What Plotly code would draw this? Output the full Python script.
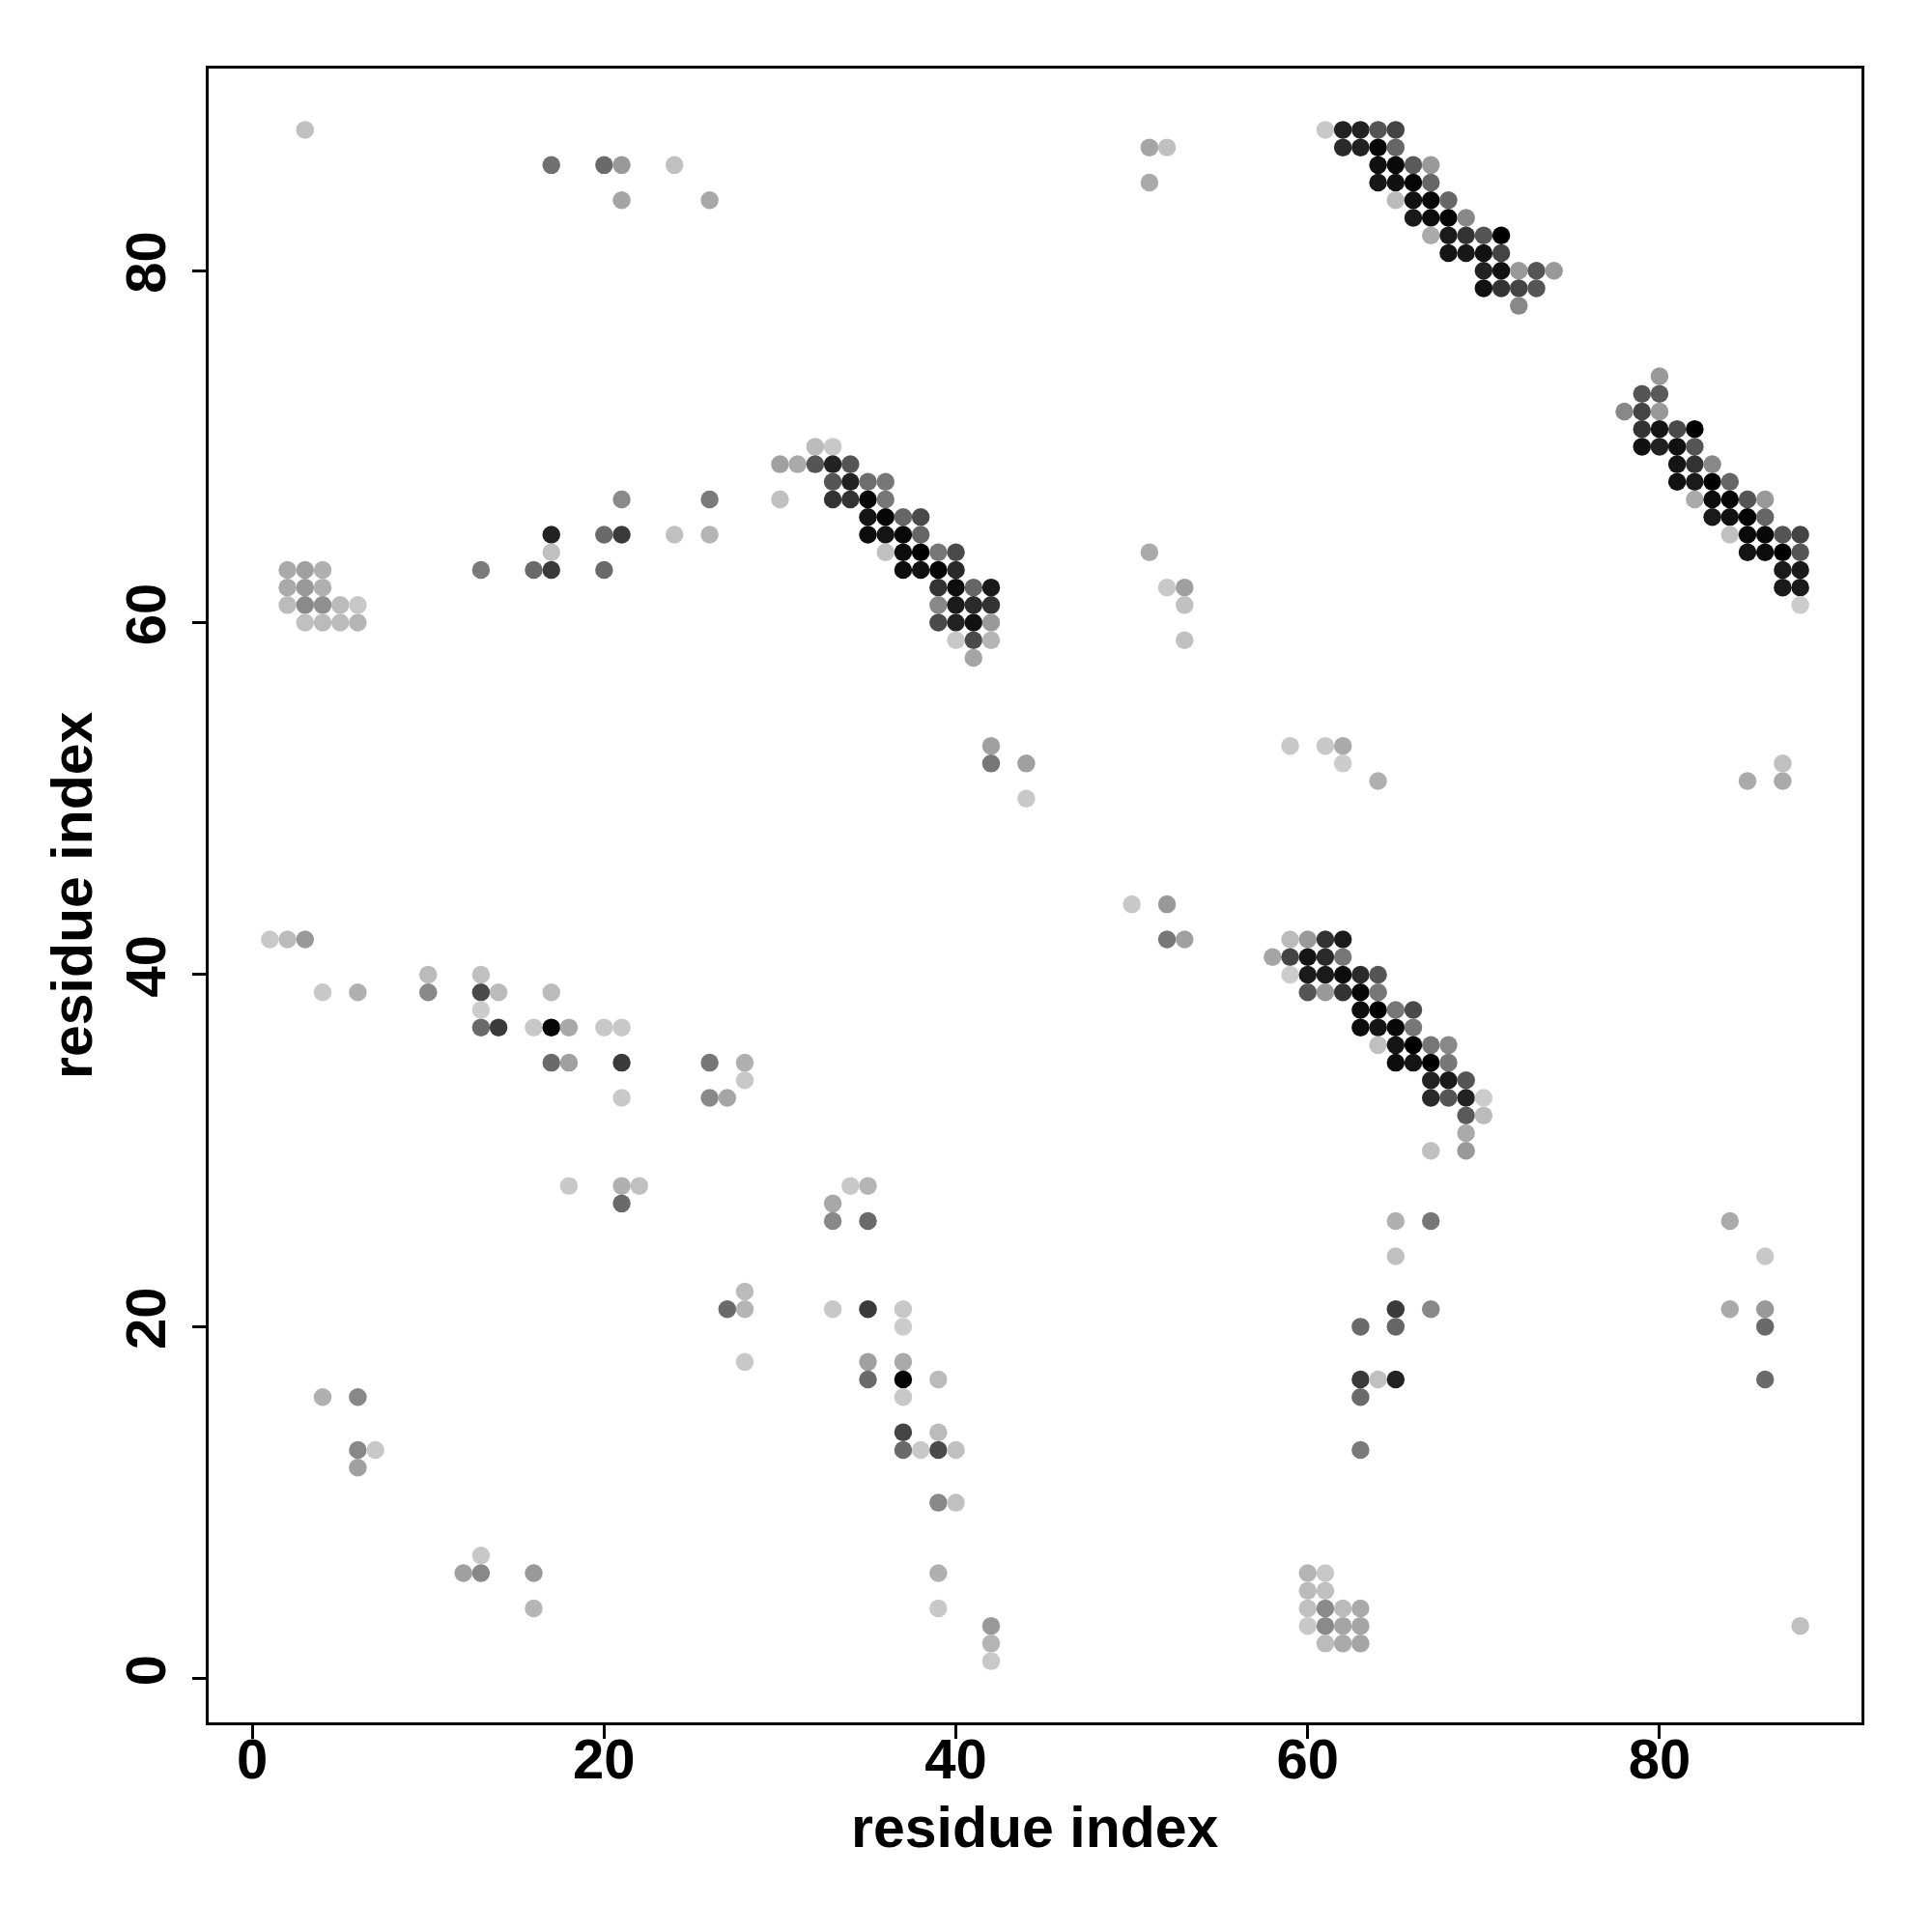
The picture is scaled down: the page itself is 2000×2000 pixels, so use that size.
import plotly.graph_objects as go

# ---- data: (residue i, residue j, grey level 0=black .. 204=light) per region ----
# band near (61-74, 78-88)
bandA_i = [61,62,63,64,65, 62,63,64,65, 64,65,66,67, 64,65,66,67, 65,66,67,68, 66,67,68,69,
           67,68,69,70,71, 68,69,70,71, 70,71,72,73,74, 70,71,72,73, 72]
bandA_j = [88,88,88,88,88, 87,87,87,87, 86,86,86,86, 85,85,85,85, 84,84,84,84, 83,83,83,83,
           82,82,82,82,82, 81,81,81,81, 80,80,80,80,80, 79,79,79,79, 78]
bandA_g = [200,34,34,85,68, 42,34,8,102, 17,10,90,153, 24,17,5,102, 187,17,8,102, 26,13,5,136,
           170,26,51,85,0, 21,24,17,68, 34,17,153,85,153, 17,51,68,85, 136]

# band near (30-42, 58-70)
bandB_i = [32,33, 30,31,32,33,34, 33,34,35,36, 30,33,34,35,36, 35,36,37,38, 35,36,37,38,
           36,37,38,39,40, 37,38,39,40, 39,40,41,42, 39,40,41,42, 39,40,41,42, 40,41,42, 41]
bandB_j = [70,70, 69,69,69,69,69, 68,68,68,68, 67,67,67,67,67, 66,66,66,66, 65,65,65,65,
           64,64,64,64,64, 63,63,63,63, 62,62,62,62, 61,61,61,61, 60,60,60,60, 59,59,59, 58]
bandB_g = [187,200, 160,170,85,34,85, 85,34,110,119, 192,51,51,8,119, 21,5,102,74, 13,21,8,102,
           192,13,0,119,74, 13,17,5,42, 51,13,102,26, 136,26,42,51, 74,34,17,153, 200,74,181, 165]

# band near (78-88, 61-74)
bandC_i = [80, 79,80, 78,79,80, 79,80,81,82, 79,80,81,82, 81,82,83, 81,82,83,84,
           82,83,84,85,86, 83,84,85,86, 84,85,86,87,88, 85,86,87,88, 87,88, 87,88, 88]
bandC_j = [74, 73,73, 72,72,72, 71,71,71,71, 70,70,70,70, 69,69,69, 68,68,68,68,
           67,67,67,67,67, 66,66,66,66, 65,65,65,65,65, 64,64,64,64, 63,63, 62,62, 61]
bandC_g = [153, 85,90, 136,68,153, 51,21,74,0, 17,34,17,85, 21,51,136, 17,26,0,102,
           170,13,8,85,153, 26,17,0,102, 192,10,8,85,68, 21,13,0,85, 26,26, 26,26, 204]

# band near (58-70, 30-42)
bandD_i = [59,60,61,62, 58,59,60,61,62, 59,60,61,62,63,64, 60,61,62,63,64, 63,64,65,66,
           63,64,65,66, 64,65,66,67,68, 65,66,67,68, 67,68,69, 67,68,69,70, 69,70, 69, 67,69]
bandD_j = [42,42,42,42, 41,41,41,41,41, 40,40,40,40,40,40, 39,39,39,39,39, 38,38,38,38,
           37,37,37,37, 36,36,36,36,36, 35,35,35,35, 34,34,34, 33,33,33,33, 32,32, 31, 30,30]
bandD_g = [187,153,51,26, 165,68,21,42,119, 204,26,26,13,42,85, 85,153,51,8,119, 13,0,119,74,
           13,21,8,119, 192,21,0,119,136, 13,21,0,119, 34,26,85, 42,85,34,204, 90,187, 170, 192,153]

# upper-left contacts
upleft_i = [3, 17,20,21,24, 21,26, 21,26, 17,20,21,24,26, 17, 13,16,17,20,
            2,3,4, 2,3,4, 2,3,4,5,6, 3,4,5,6]
upleft_j = [88, 86,86,86,86, 84,84, 67,67, 65,65,65,65,65, 64, 63,63,63,63,
            63,63,63, 62,62,62, 61,61,61,61,61, 60,60,60,60]
upleft_g = [192, 112,106,153,192, 165,168, 138,122, 34,106,58,192,181, 192, 122,106,58,106,
            170,160,176, 170,153,176, 187,138,143,187,200, 192,187,187,181]

# left-middle contacts
midleft_i = [1,2,3, 10,13, 4,6,10,13,14,17, 13, 13,14,16,17,18,20,21,
             17,18,21,26,28, 28, 21,26,27, 18,21,22, 21]
midleft_j = [42,42,42, 40,40, 39,39,39,39,39,39, 38, 37,37,37,37,37,37,37,
             35,35,35,35,35, 34, 33,33,33, 28,28,28, 27]
midleft_g = [200,187,153, 187,192, 200,176,136,74,187,187, 204, 106,58,200,5,168,200,200,
             106,160,58,119,176, 200, 200,136,165, 200,176,192, 106]

# lower-left contacts
lowleft_i = [28,27,28,28, 4,6, 6,7,6, 13,12,13,16,16]
lowleft_j = [22,21,21,18, 16,16, 13,13,12, 7,6,6,6,4]
lowleft_g = [187,106,181,200, 176,136, 136,200,160, 200,160,136,153,181]

# lower-middle contacts
lowmid_i = [34,35,33,33,35, 33,35,37, 37, 35,37, 35,37,39, 37, 37,39, 37,38,39,40,
            39,40, 39,39, 42,42,42]
lowmid_j = [28,28,27,26,26, 21,21,21, 20, 18,18, 17,17,17, 16, 14,14, 13,13,13,13,
            10,10, 6,4, 3,2,1]
lowmid_g = [200,181,168,136,106, 200,58,200, 204, 160,170, 106,5,187, 200, 68,187, 106,200,74,192,
            136,192, 176,200, 153,181,200]

# scattered middle contacts
center_i = [42,42,44,44, 50,52,52,53, 51,52,51, 51,52,53,53,53,
            59,61,62,62,64, 85,87,87]
center_j = [53,52,52,50, 44,44,42,42, 87,87,85, 64,62,62,61,59,
            53,53,53,52,51, 51,51,52]
center_g = [160,119,160,200, 200,153,119,160, 165,192,170, 170,200,160,192,192,
            200,200,170,204,176, 170,170,192]

# lower-right contacts
lowright_i = [65,67,65,65,67, 63,65,63,64,65,63,63,
              60,61, 60,61, 60,61,62,63, 60,61,62,63, 61,62,63,
              88, 84,86,84,86,86,86]
lowright_j = [26,26,24,21,21, 20,20,17,17,17,16,13,
              6,6, 5,5, 4,4,4,4, 3,3,3,3, 2,2,2,
              3, 26,24,21,21,20,17]
lowright_g = [176,119,192,58,136, 106,102,58,192,34,106,122,
              181,200, 187,192, 192,138,187,170, 200,138,165,165, 187,170,165,
              192, 170,200,170,153,106,106]

tick_vals = [0, 20, 40, 60, 80]
axis_label = "residue index"

# ---- assemble ----
xs = bandA_i + bandB_i + bandC_i + bandD_i + upleft_i + midleft_i + lowleft_i + lowmid_i + center_i + lowright_i
ys = bandA_j + bandB_j + bandC_j + bandD_j + upleft_j + midleft_j + lowleft_j + lowmid_j + center_j + lowright_j
gs = bandA_g + bandB_g + bandC_g + bandD_g + upleft_g + midleft_g + lowleft_g + lowmid_g + center_g + lowright_g
colors = [f"rgb({g},{g},{g})" for g in gs]

fig = go.Figure()
fig.add_trace(go.Scatter(
    x=xs, y=ys, mode="markers",
    marker=dict(size=18.5, color=colors, line=dict(width=0)),
    hoverinfo="x+y", showlegend=False,
))

FAMILY = "Liberation Sans, Arial, sans-serif"
font_main = dict(family=FAMILY, size=59, color="black")

axis_common = dict(
    range=[-2.48, 91.48], autorange=False,
    tickmode="array", tickvals=tick_vals, ticktext=[str(v) for v in tick_vals],
    ticks="outside", ticklen=14, tickwidth=2.5, tickcolor="black",
    showline=True, linecolor="black", linewidth=2.5, mirror=True,
    showgrid=False, zeroline=False,
    tickfont=dict(family=FAMILY, size=58, color="black", weight="bold"),
)

fig.update_xaxes(**axis_common, ticklabelstandoff=-28)
fig.update_yaxes(**axis_common, tickangle=-90, ticklabelstandoff=5)

# axis titles placed as annotations for exact positioning
fig.add_annotation(text="<b>" + axis_label + "</b>", xref="paper", yref="paper",
                   x=0.5, y=0, xanchor="center", yanchor="middle", yshift=-109,
                   showarrow=False, font=font_main)
fig.add_annotation(text="<b>" + axis_label + "</b>", xref="paper", yref="paper",
                   x=0, y=0.5, xanchor="center", yanchor="middle", xshift=-141,
                   textangle=-90, showarrow=False, font=font_main)

fig.update_layout(
    width=1984, height=1984,
    margin=dict(l=208, r=65, t=63, b=209, pad=0),
    paper_bgcolor="white", plot_bgcolor="white",
    font=font_main,
)

fig.write_html("out.html")
